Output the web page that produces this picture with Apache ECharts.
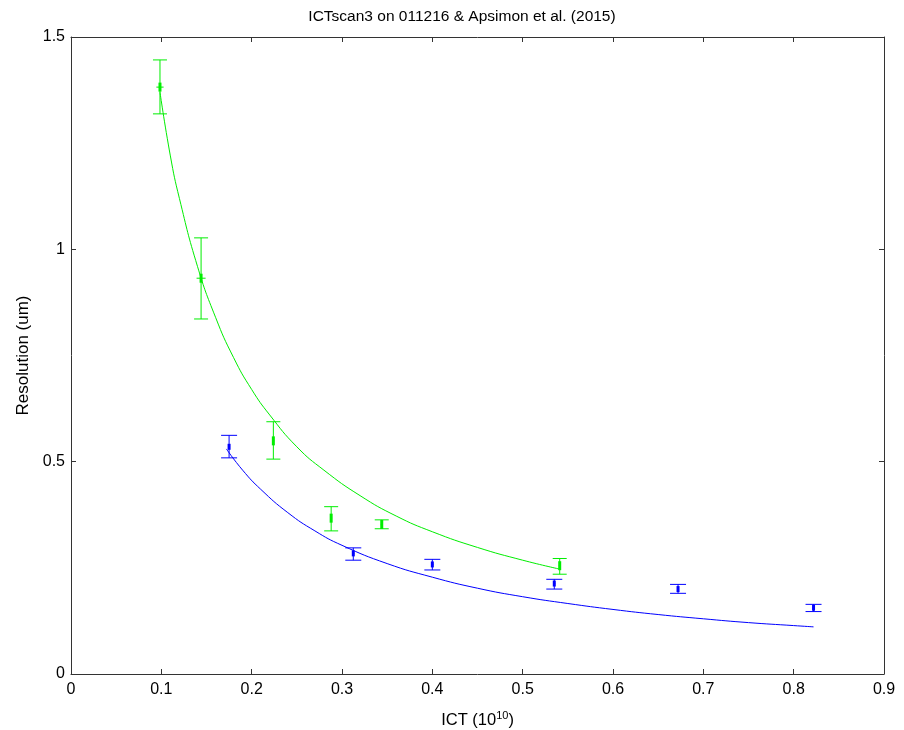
<!DOCTYPE html>
<html>
<head>
<meta charset="utf-8">
<script src="https://cdn.jsdelivr.net/npm/echarts@6/dist/echarts.min.js"></script>
<style>
html,body{margin:0;padding:0;background:#fff;}
#chart{width:904px;height:730px;}
</style>
</head>
<body>
<div id="chart"></div>
<script>
// ---- data ----
var titleText = 'ICTscan3 on 011216 & Apsimon et al. (2015)';
var xTicks = [0, 0.1, 0.2, 0.3, 0.4, 0.5, 0.6, 0.7, 0.8, 0.9];
var yTicks = [0, 0.5, 1, 1.5];

// green measurements: x, y, y low, y high, x error
var greenX   = [0.0985, 0.144, 0.224, 0.288, 0.344, 0.541];
var greenY   = [1.382, 0.932, 0.549, 0.367, 0.352, 0.255];
var greenLo  = [1.319, 0.836, 0.506, 0.337, 0.342, 0.235];
var greenHi  = [1.446, 1.027, 0.594, 0.394, 0.363, 0.272];
var greenXe  = [0.004, 0.005, 0.001, 0.001, 0.001, 0.001];

// blue measurements
var blueX  = [0.175, 0.3125, 0.400, 0.535, 0.672, 0.822];
var blueY  = [0.535, 0.284, 0.258, 0.213, 0.200, 0.156];
var blueLo = [0.509, 0.268, 0.245, 0.200, 0.190, 0.147];
var blueHi = [0.562, 0.297, 0.270, 0.223, 0.211, 0.164];
var blueXe = [0.001, 0.001, 0.001, 0.001, 0.001, 0.001];

// fit curves
var greenFitX = [0.0985, 0.11, 0.12, 0.14, 0.16, 0.18, 0.20, 0.22, 0.25, 0.28, 0.32, 0.36, 0.40, 0.45, 0.50, 0.541];
var greenFitY = [1.37, 1.22, 1.12, 0.96, 0.84, 0.745, 0.67, 0.61, 0.535, 0.48, 0.42, 0.372, 0.335, 0.298, 0.268, 0.247];
var blueFitX = [0.172, 0.19, 0.21, 0.24, 0.27, 0.30, 0.35, 0.40, 0.45, 0.50, 0.55, 0.60, 0.65, 0.70, 0.75, 0.80, 0.822];
var blueFitY = [0.53, 0.48, 0.435, 0.38, 0.337, 0.303, 0.26, 0.228, 0.202, 0.182, 0.166, 0.152, 0.140, 0.130, 0.121, 0.114, 0.111];

function zip(a, b) { return a.map(function (v, i) { return [v, b[i]]; }); }
function errData(x, y, lo, hi, xe) {
  return x.map(function (v, i) { return [v, y[i], lo[i], hi[i], v - xe[i], v + xe[i]]; });
}

function makeRender(color, capHalf, mw, mh) {
  return function (params, api) {
    var x = api.value(0), y = api.value(1);
    var pLo = api.coord([x, api.value(2)]);
    var pHi = api.coord([x, api.value(3)]);
    var pC = api.coord([x, y]);
    var pXl = api.coord([api.value(4), y]);
    var pXr = api.coord([api.value(5), y]);
    var st = { stroke: color, lineWidth: 1 };
    return {
      type: 'group',
      children: [
        { type: 'line', shape: { x1: pLo[0], y1: pLo[1], x2: pHi[0], y2: pHi[1] }, style: st },
        { type: 'line', shape: { x1: pLo[0] - capHalf, y1: pLo[1], x2: pLo[0] + capHalf, y2: pLo[1] }, style: st },
        { type: 'line', shape: { x1: pHi[0] - capHalf, y1: pHi[1], x2: pHi[0] + capHalf, y2: pHi[1] }, style: st },
        { type: 'line', shape: { x1: pXl[0], y1: pC[1], x2: pXr[0], y2: pC[1] }, style: st },
        { type: 'rect', shape: { x: pC[0] - mw / 2, y: pC[1] - mh / 2, width: mw, height: mh }, style: { fill: color } }
      ]
    };
  };
}

var axisCommon = {
  type: 'value',
  axisLine: { show: true, onZero: false, lineStyle: { color: '#333', width: 1 } },
  axisTick: { show: true, inside: true, length: 5, lineStyle: { color: '#333' } },
  splitLine: { show: false }
};
function fmt(v) { return String(+v.toFixed(2)); }
var FF = 'Liberation Sans, Arial, sans-serif';

var chart = echarts.init(document.getElementById('chart'), null, { renderer: 'canvas' });
chart.setOption({
  backgroundColor: '#fff',
  animation: false,
  textStyle: { fontFamily: FF },
  title: {
    text: titleText, left: 457, top: 4, textAlign: 'center',
    textStyle: { fontSize: 15.5, fontWeight: 'normal', color: '#000', fontFamily: FF }
  },
  grid: { left: 71, right: 20, top: 37, bottom: 56, containLabel: false, outerBoundsMode: 'none' },
  xAxis: [
    Object.assign({}, axisCommon, {
      min: xTicks[0], max: xTicks[xTicks.length - 1], interval: 0.1, position: 'bottom',
      name: '{a|ICT (10}{s|10}{a|)}', nameLocation: 'middle', nameGap: 36,
      nameTextStyle: { rich: { a: { fontSize: 16.5, color: '#000', fontFamily: FF }, s: { fontSize: 11, color: '#000', verticalAlign: 'top', padding: [0, 0, 9, 0], fontFamily: FF } } },
      axisLabel: { fontSize: 16, color: '#000', margin: 8, formatter: fmt }
    }),
    Object.assign({}, axisCommon, {
      min: xTicks[0], max: xTicks[xTicks.length - 1], interval: 0.1, position: 'top',
      axisLabel: { show: false }
    })
  ],
  yAxis: [
    Object.assign({}, axisCommon, {
      min: yTicks[0], max: yTicks[yTicks.length - 1], interval: 0.5, position: 'left',
      name: 'Resolution (um)', nameLocation: 'middle', nameGap: 36, nameRotate: 90,
      nameTextStyle: { fontSize: 17, color: '#000', fontFamily: FF },
      axisLabel: { fontSize: 16, color: '#000', margin: 6, formatter: fmt }
    }),
    Object.assign({}, axisCommon, {
      min: yTicks[0], max: yTicks[yTicks.length - 1], interval: 0.5, position: 'right',
      axisLabel: { show: false }
    })
  ],
  series: [
    { type: 'line', data: zip(greenFitX, greenFitY), smooth: true, symbol: 'none', lineStyle: { color: '#00ee00', width: 1 }, z: 2 },
    { type: 'line', data: zip(blueFitX, blueFitY), smooth: true, symbol: 'none', lineStyle: { color: '#0000ff', width: 1 }, z: 2 },
    { type: 'custom', data: errData(greenX, greenY, greenLo, greenHi, greenXe), renderItem: makeRender('#00ee00', 7, 3, 9), encode: { x: 0, y: [1, 2, 3] }, z: 3 },
    { type: 'custom', data: errData(blueX, blueY, blueLo, blueHi, blueXe), renderItem: makeRender('#0000ff', 8, 3, 6), encode: { x: 0, y: [1, 2, 3] }, z: 3 }
  ]
});
</script>
</body>
</html>
